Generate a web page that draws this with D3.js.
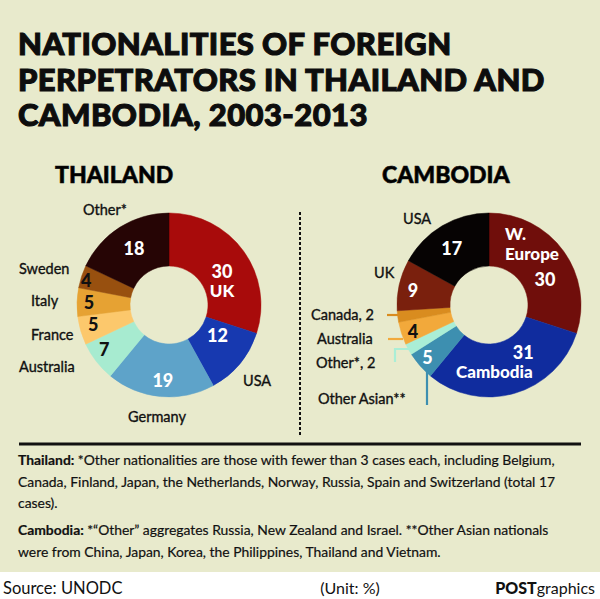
<!DOCTYPE html>
<html><head><meta charset="utf-8">
<script src="https://cdn.jsdelivr.net/npm/d3@7"></script>
<style>
html,body{margin:0;padding:0;background:#fff;}
svg text{font-family:Lato,"Open Sans",sans-serif;}
</style></head>
<body>
<svg id="c" width="600" height="599"></svg>
<script>
// ---- data ----
const titleLines = ["NATIONALITIES OF FOREIGN", "PERPETRATORS IN THAILAND AND", "CAMBODIA, 2003-2013"];
const thaiLabels = ["UK", "USA", "Germany", "Australia", "France", "Italy", "Sweden", "Other*"];
const thaiValues = [30, 12, 19, 7, 5, 5, 4, 18];
const thaiColors = ["#a80b0b", "#1739b0", "#5ea3c9", "#a7ebd0", "#fcc86c", "#e6a233", "#98500f", "#260505"];
const cambLabels = ["W. Europe", "Cambodia", "Other Asian**", "Other*", "Australia", "Canada", "UK", "USA"];
const cambValues = [30, 31, 5, 2, 4, 2, 9, 17];
const cambColors = ["#700e0b", "#102c9e", "#3d8fb0", "#aaeed6", "#f2a93b", "#d98c1f", "#7a200d", "#060303"];
const noteThai = ["*Other nationalities are those with fewer than 3 cases each, including Belgium,",
  "Canada, Finland, Japan, the Netherlands, Norway, Russia, Spain and Switzerland (total 17",
  "cases)."];
const noteCamb = ["*\u201COther\u201D aggregates Russia, New Zealand and Israel. **Other Asian nationals",
  "were from China, Japan, Korea, the Philippines, Thailand and Vietnam."];
const source = "Source: UNODC", unit = "(Unit: %)";

// ---- drawing ----
const svg = d3.select("#c");
svg.append("rect").attr("width", 600).attr("height", 572).attr("fill", "#e8eacc");
svg.append("rect").attr("y", 572).attr("width", 600).attr("height", 27).attr("fill", "#ffffff");

svg.selectAll("text.title").data(titleLines).join("text")
  .attr("x", 18).attr("y", (d, i) => 55 + i * 35.5)
  .attr("font-size", 31).attr("font-weight", 900).attr("fill", "#0d0d0d")
  .attr("stroke", "#0d0d0d").attr("stroke-width", 1.1).attr("letter-spacing", 0.4)
  .text(d => d);

svg.append("text").attr("x", 55).attr("y", 183).attr("font-size", 23).attr("font-weight", 900)
  .attr("stroke", "#111").attr("stroke-width", 0.6).text("THAILAND");
svg.append("text").attr("x", 382).attr("y", 183).attr("font-size", 23).attr("font-weight", 900)
  .attr("stroke", "#111").attr("stroke-width", 0.6).text("CAMBODIA");

svg.append("line").attr("x1", 300).attr("x2", 300).attr("y1", 212).attr("y2", 437)
  .attr("stroke", "#111").attr("stroke-width", 2).attr("stroke-dasharray", "3,2");

const R = 92, r0 = 39;
const arc = d3.arc().innerRadius(r0).outerRadius(R);
const pie = d3.pie().sort(null).value(d => d.v);
const polar = (a, rad) => [Math.sin(a) * rad, -Math.cos(a) * rad];

function donut(cx, cy, labels, values, colors) {
  const data = labels.map((l, i) => ({ l, v: values[i], c: colors[i] }));
  const arcs = pie(data);
  const g = svg.append("g").attr("transform", `translate(${cx},${cy})`);
  g.selectAll("path").data(arcs).join("path").attr("d", arc).attr("fill", d => d.data.c)
    .attr("stroke", d => d.data.c).attr("stroke-width", 0.5);
  return { g, arcs };
}

const T = donut(169, 305, thaiLabels, thaiValues, thaiColors);
const C = donut(489, 305, cambLabels, cambValues, cambColors);

function mid(d) { return (d.startAngle + d.endAngle) / 2; }

function valueLabels(D, rules) {
  D.arcs.forEach((d, i) => {
    const ru = rules[i];
    const [x, y] = polar(mid(d), ru.r);
    ru.lines.forEach((ln) => {
      D.g.append("text").attr("x", x + (ln.dx || 0)).attr("y", y + ln.dy)
        .attr("text-anchor", ln.anchor || "middle").attr("dominant-baseline", "central")
        .attr("font-size", ln.fs || 18).attr("font-weight", 900).attr("fill", ru.fill)
        .text(ln.t);
    });
  });
}
const tv = thaiValues.map(String), cv = cambValues.map(String);
valueLabels(T, [
  { r: 65.5, fill: "#fff", lines: [{ t: tv[0], dy: 4 }, { t: thaiLabels[0], dy: 24, fs: 17 }] },
  { r: 65.5, fill: "#fff", lines: [{ t: tv[1], dy: -12, dx: -2 }] },
  { r: 65.5, fill: "#fff", lines: [{ t: tv[2], dy: 10 }] },
  { r: 72, fill: "#111", lines: [{ t: tv[3], dy: 0, dx: -8 }] },
  { r: 78, fill: "#111", lines: [{ t: tv[4], dy: -3, dx: -1 }] },
  { r: 80, fill: "#111", lines: [{ t: tv[5], dy: -1, dx: 0 }] },
  { r: 84, fill: "#111", lines: [{ t: tv[6], dy: 1, dx: -3 }] },
  { r: 65.5, fill: "#fff", lines: [{ t: tv[7], dy: -2 }] }
]);
valueLabels(C, [
  { r: 65.5, fill: "#fff", lines: [{ t: "W.", dy: -33, dx: -37, anchor: "start", fs: 17 }, { t: "Europe", dy: -13, dx: -37, anchor: "start", fs: 17 }, { t: cv[0], dy: 12, dx: 3 }] },
  { r: 65.5, fill: "#fff", lines: [{ t: cv[1], dy: -16, dx: 16 }, { t: cambLabels[1], dy: 4, dx: -13, fs: 17 }] },
  { r: 82, fill: "#fff", lines: [{ t: cv[2], dy: -2, dx: 0 }] },
  null,
  { r: 80, fill: "#111", lines: [{ t: cv[4], dy: 1, dx: 0 }] },
  null,
  { r: 78, fill: "#fff", lines: [{ t: cv[6], dy: 2, dx: 0 }] },
  { r: 65.5, fill: "#fff", lines: [{ t: cv[7], dy: -1, dx: -4 }] }
].map(x => x || { r: 0, fill: "#000", lines: [] }));

function outer(D, items) {
  items.forEach(it => {
    D.g.append("text").attr("x", it.x).attr("y", it.y).attr("text-anchor", it.a || "start")
      .attr("dominant-baseline", "central").attr("font-size", 14.5).attr("font-weight", 400)
      .attr("fill", "#111").attr("stroke", "#111").attr("stroke-width", 0.35).text(it.t);
  });
}
outer(T, [
  { t: thaiLabels[7], x: -86, y: -96 },
  { t: thaiLabels[6], x: -150, y: -37 },
  { t: thaiLabels[5], x: -138, y: -5 },
  { t: thaiLabels[4], x: -138, y: 29 },
  { t: thaiLabels[3], x: -150, y: 61 },
  { t: thaiLabels[2], x: -41, y: 111 },
  { t: thaiLabels[1], x: 74, y: 75 }
]);
outer(C, [
  { t: cambLabels[7], x: -86, y: -87 },
  { t: cambLabels[6], x: -115, y: -33 },
  { t: cambLabels[5] + ", " + cv[5], x: -178, y: 9 },
  { t: cambLabels[4], x: -172, y: 33 },
  { t: cambLabels[3] + ", " + cv[3], x: -173, y: 57 },
  { t: cambLabels[2], x: -171, y: 93 }
]);
const lead = [
  { c: cambColors[5], p: [[-102, 10], [-90, 10]] },
  { c: cambColors[4], p: [[-101, 34], [-86, 34]] },
  { c: cambColors[3], p: [[-94, 57], [-94, 44], [-79, 44]] },
  { c: cambColors[2], p: [[-62, 63], [-62, 100]] }
];
C.g.selectAll("path.lead").data(lead).join("path").attr("class", "lead")
  .attr("d", d => d3.line()(d.p)).attr("fill", "none").attr("stroke", d => d.c).attr("stroke-width", 2.2);

svg.append("line").attr("x1", 19).attr("x2", 581).attr("y1", 444).attr("y2", 444)
  .attr("stroke", "#111").attr("stroke-width", 3);
function note(head, lines, y0) {
  lines.forEach((ln, i) => {
    const t = svg.append("text").attr("x", 18).attr("y", y0 + i * 21.5).attr("font-size", 13.9)
      .attr("fill", "#111").attr("stroke", "#111").attr("stroke-width", 0.2);
    if (i === 0) t.append("tspan").attr("font-weight", 700).text(head + " ");
    t.append("tspan").text(ln);
  });
}
note("Thailand:", noteThai, 465);
note("Cambodia:", noteCamb, 535);

svg.append("text").attr("x", 3).attr("y", 594).attr("font-size", 16.5).attr("fill", "#111").text(source);
svg.append("text").attr("x", 350).attr("y", 594).attr("text-anchor", "middle").attr("font-size", 16).attr("fill", "#111").text(unit);
const pg = svg.append("text").attr("x", 595).attr("y", 594).attr("text-anchor", "end").attr("font-size", 16).attr("fill", "#111");
pg.append("tspan").attr("font-weight", 900).text("POST");
pg.append("tspan").text("graphics");
</script>
</body></html>
